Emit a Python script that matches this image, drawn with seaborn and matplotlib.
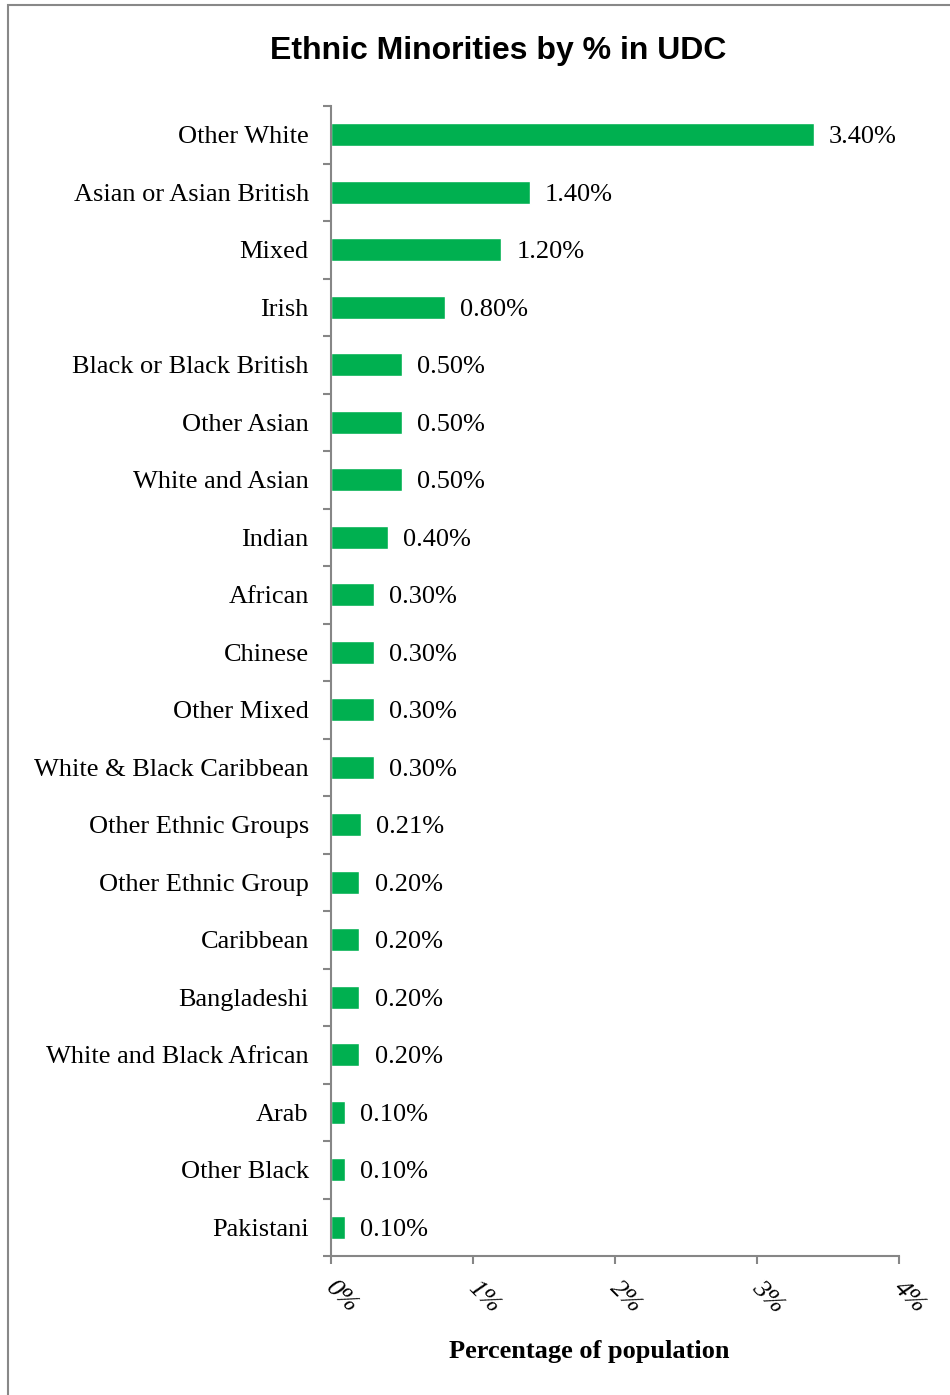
import matplotlib
matplotlib.use('Agg')
import matplotlib.pyplot as plt
import matplotlib.transforms as mtransforms
import seaborn as sns
import pandas as pd
import numpy as np
from matplotlib.patches import Rectangle

# Datos del gráfico
categorias = ['Other White', 'Asian or Asian British', 'Mixed', 'Irish',
              'Black or Black British', 'Other Asian', 'White and Asian', 'Indian',
              'African', 'Chinese', 'Other Mixed', 'White & Black Caribbean',
              'Other Ethnic Groups', 'Other Ethnic Group', 'Caribbean', 'Bangladeshi',
              'White and Black African', 'Arab', 'Other Black', 'Pakistani']
valores = [3.40, 1.40, 1.20, 0.80, 0.50, 0.50, 0.50, 0.40, 0.30, 0.30,
           0.30, 0.30, 0.21, 0.20, 0.20, 0.20, 0.20, 0.10, 0.10, 0.10]
etiquetas_x = ['0%', '1%', '2%', '3%', '4%']

df = pd.DataFrame({'grupo': categorias, 'pct': valores})

sns.set_style('white')
plt.rcParams['text.color'] = 'black'
plt.rcParams['xtick.color'] = 'black'
plt.rcParams['ytick.color'] = 'black'
serif = 'Liberation Serif'
gris = '#868686'
fs = 19

fig = plt.figure(figsize=(9.5, 13.95), dpi=100)
ax = fig.add_axes([0.3484, 0.0996, 0.598, 0.8244])

sns.barplot(data=df, x='pct', y='grupo', orient='h', color='#00B050',
            width=0.4, saturation=1, ax=ax)

ax.set_xlim(0, 4)
ax.set_ylim(len(categorias) - 0.5, -0.5)

# Etiquetas de valores
for i, v in enumerate(valores):
    ax.annotate(f'{v:.2f}%', (v, i), xytext=(11, 0), textcoords='offset points',
                va='center_baseline', ha='left', fontsize=fs, family=serif,
                color='black')

# Ejes estilo Excel
for s in ['top', 'right']:
    ax.spines[s].set_visible(False)
for s in ['left', 'bottom']:
    ax.spines[s].set_color(gris)
    ax.spines[s].set_linewidth(1.5)

ax.set_xticks(range(5))
ax.set_xticklabels(etiquetas_x, rotation=-45, ha='left', va='top',
                   fontsize=fs, family=serif, style='italic',
                   rotation_mode='anchor')
ax.tick_params(axis='x', bottom=True, direction='out', length=6, color=gris,
               width=1.5, pad=9, labelcolor='black')
desplaz = mtransforms.ScaledTranslation(6 / 100, 0, fig.dpi_scale_trans)
for lab in ax.get_xticklabels():
    lab.set_transform(lab.get_transform() + desplaz)

ax.set_yticks(range(len(categorias)))
ax.set_yticklabels(categorias, fontsize=fs, family=serif)
ax.tick_params(axis='y', which='major', left=False, length=0, pad=16,
               labelcolor='black')
ax.set_yticks(np.arange(-0.5, len(categorias) + 0.5, 1), minor=True)
ax.tick_params(axis='y', which='minor', left=True, direction='out', length=6,
               color=gris, width=1.5)

ax.set_ylabel('')
ax.set_xlabel('Percentage of population', fontsize=fs, family=serif,
              fontweight='bold', color='black')
ax.xaxis.set_label_coords(0.454, -0.073)

fig.suptitle('Ethnic Minorities by % in UDC', x=0.524, y=0.9745, fontsize=23,
             fontweight='bold', family='Liberation Sans', color='black')

# Borde del gráfico
fig.patches.append(Rectangle((8 / 950, -0.01), 1.1, (1395 - 5) / 1395 + 0.01,
                             transform=fig.transFigure, fill=False,
                             edgecolor='#888888', linewidth=1.5))

fig.savefig('out.png', dpi=100)
